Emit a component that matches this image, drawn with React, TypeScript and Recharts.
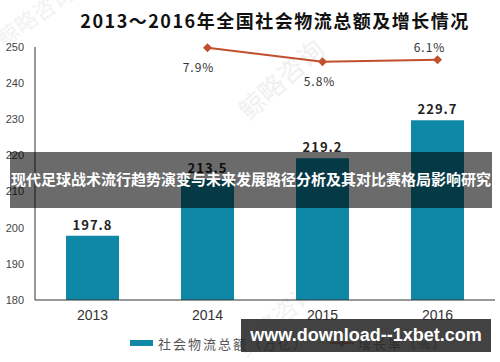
import React from "react";
import { ComposedChart, Bar, Line, XAxis, YAxis, LabelList } from "recharts";

const years = ["2013", "2014", "2015", "2016"];
const totals = [197.8, 213.5, 219.2, 229.7];
const growth: (number | null)[] = [null, 7.9, 5.8, 6.1];
const totalTicks = [180, 190, 200, 210, 220, 230, 240, 250];

const title = "2013～2016年全国社会物流总额及增长情况";
const bannerText = "现代足球战术流行趋势演变与未来发展路径分析及其对比赛格局影响研究";
const siteText = "www.download--1xbet.com";
const legendBar = "社会物流总额（万亿）";
const legendLine = "增长率（%）";
const watermark = "鲸略咨询";

const data = years.map((y, i) => ({ year: y, total: totals[i], growth: growth[i] }));

const BAR_COLOR = "#0f88a8";
const LINE_COLOR = "#c2502c";
const CJK = '"Noto Sans CJK SC", "Noto Sans", sans-serif';
const LATIN = '"Liberation Sans", Arial, sans-serif';

// label placement relative to each line point (by index)
const growthLabelShift: Record<number, [number, number]> = {
  1: [-9, 19],
  2: [-3, 19],
  3: [-8, -13],
};

const Diamond = (props: any) => {
  const { cx, cy } = props;
  if (cx == null || cy == null || props.value == null) return null;
  const r = 4.5;
  return (
    <path
      d={`M${cx},${cy - r}L${cx + r},${cy}L${cx},${cy + r}L${cx - r},${cy}Z`}
      fill={LINE_COLOR}
    />
  );
};

const GrowthLabel = (props: any) => {
  const { x, y, value, index } = props;
  if (value == null) return null;
  const [dx, dy] = growthLabelShift[index] || [0, -12];
  return (
    <text
      x={x + dx}
      y={y + dy}
      textAnchor="middle"
      dominantBaseline="central"
      fontSize={12}
      fill="#333"
      fontFamily={CJK}
      letterSpacing={1}
    >
      {value.toFixed(1) + "%"}
    </text>
  );
};

export default function App() {
  return (
    <div style={{ position: "absolute", left: 0, top: 0, width: 500, height: 362, background: "#fff", overflow: "hidden" }}>
      <ComposedChart
        width={500}
        height={362}
        data={data}
        margin={{ top: 47, right: 5, bottom: 32, left: 0 }}
        barCategoryGap={0}
      >
        <text x={34} y={14} textAnchor="middle" dominantBaseline="central" fontSize={22} fill="#f2f2f2" fontFamily={CJK} transform="rotate(-35 34 14)">
          {watermark}
        </text>
        <text x={280} y={78} textAnchor="middle" dominantBaseline="central" fontSize={26} fill="#f0f0f0" fontFamily={CJK} transform="rotate(-42 280 78)">
          {watermark}
        </text>
        <text x={275} y={318} textAnchor="middle" dominantBaseline="central" fontSize={24} fill="#f2f2f2" fontFamily={CJK} transform="rotate(-42 275 318)">
          {watermark}
        </text>
        <text x={275} y={20} textAnchor="middle" dominantBaseline="central" fontSize={18} fontWeight="bold" fill="#111" fontFamily={CJK} letterSpacing={1.5}>
          {title}
        </text>
        <XAxis
          dataKey="year"
          axisLine={{ stroke: "#333", strokeWidth: 1 }}
          tickLine={false}
          tickSize={0}
          tickMargin={10}
          height={30}
          tick={{ fontSize: 14, fill: "#333", fontFamily: LATIN }}
        />
        <YAxis
          yAxisId="left"
          domain={[180, 250]}
          ticks={totalTicks}
          width={35}
          axisLine={{ stroke: "#333", strokeWidth: 1 }}
          tickLine={false}
          tickSize={0}
          tickMargin={11}
          tick={{ fontSize: 11, fill: "#444", fontFamily: LATIN }}
          allowDataOverflow
        />
        <YAxis yAxisId="right" orientation="right" domain={[-30, 8]} hide />
        <Bar yAxisId="left" dataKey="total" fill={BAR_COLOR} barSize={53} isAnimationActive={false}>
          <LabelList
            dataKey="total"
            position="top"
            offset={6}
            formatter={(v: any) => Number(v).toFixed(1)}
            style={{ fontSize: 13, fontWeight: "bold", fill: "#222", fontFamily: CJK, letterSpacing: 1 }}
          />
        </Bar>
        <Line
          yAxisId="right"
          dataKey="growth"
          stroke={LINE_COLOR}
          strokeWidth={2}
          dot={<Diamond />}
          activeDot={false}
          connectNulls={false}
          isAnimationActive={false}
        >
          <LabelList dataKey="growth" content={<GrowthLabel />} />
        </Line>
      </ComposedChart>

      {/* legend */}
      <div style={{ position: "absolute", left: 130, top: 334, height: 18, display: "flex", alignItems: "center", fontFamily: CJK, fontSize: 13, color: "#555" }}>
        <div style={{ width: 23, height: 6, background: BAR_COLOR, marginRight: 5 }} />
        <span style={{ letterSpacing: 2 }}>{legendBar}</span>
        <svg width={24} height={10} style={{ marginLeft: 22, marginRight: 4 }}>
          <line x1={0} y1={5} x2={24} y2={5} stroke={LINE_COLOR} strokeWidth={2} />
          <path d="M12,1L16,5L12,9L8,5Z" fill={LINE_COLOR} />
        </svg>
        <span style={{ letterSpacing: 2 }}>{legendLine}</span>
      </div>

      {/* overlay banner */}
      <div style={{ position: "absolute", left: 10, top: 152, width: 482, height: 56, background: "rgba(0,0,0,0.58)", display: "flex", alignItems: "center", justifyContent: "center" }}>
        <span style={{ color: "#fff", fontFamily: CJK, fontWeight: "bold", fontSize: 15, whiteSpace: "nowrap", marginTop: -4 }}>{bannerText}</span>
      </div>

      {/* site stamp */}
      <div style={{ position: "absolute", left: 241, top: 319, width: 250, height: 33, background: "rgba(40,40,40,0.88)", display: "flex", alignItems: "center", justifyContent: "center" }}>
        <span style={{ color: "#fff", fontFamily: LATIN, fontWeight: "bold", fontSize: 18, whiteSpace: "nowrap" }}>{siteText}</span>
      </div>
    </div>
  );
}
